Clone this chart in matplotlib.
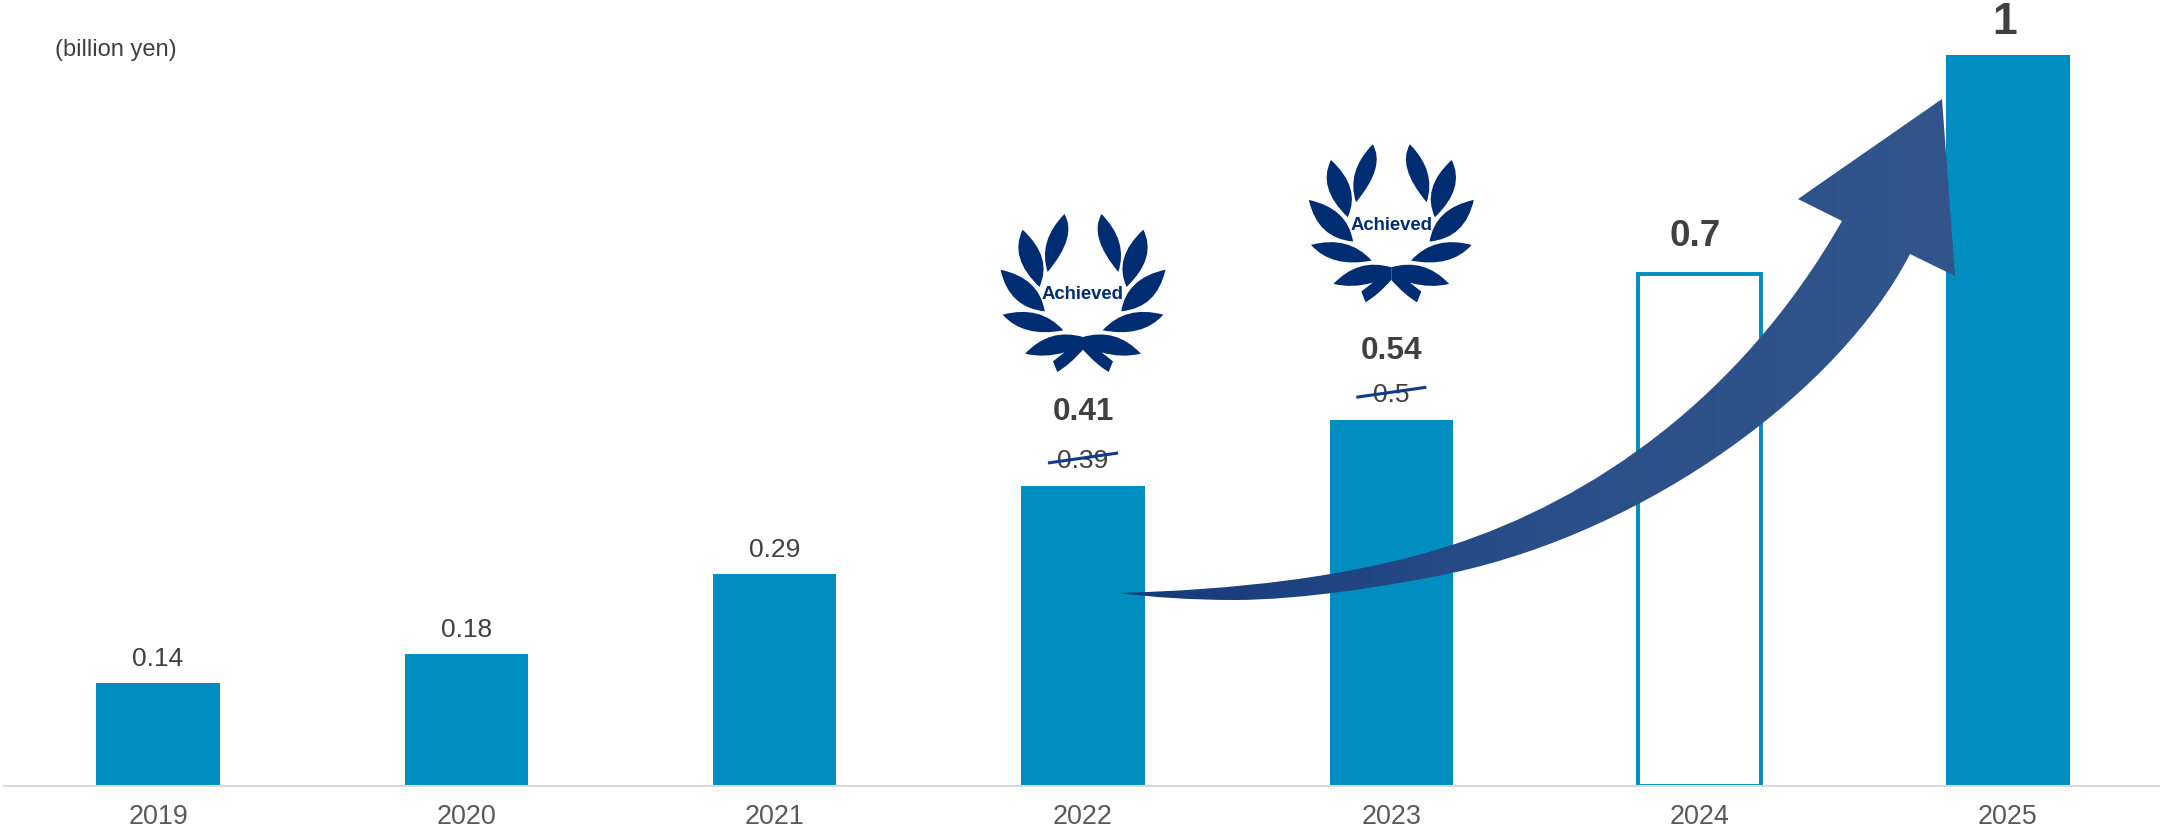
import numpy as np
import matplotlib
matplotlib.use('Agg')
import matplotlib.pyplot as plt
from matplotlib.colors import LinearSegmentedColormap
from matplotlib.patches import PathPatch
from matplotlib.path import Path
from matplotlib.transforms import Affine2D

plt.rcParams['font.family'] = ['Liberation Sans', 'DejaVu Sans']

years = ['2019', '2020', '2021', '2022', '2023', '2024', '2025']
bar_values = [0.14, 0.18, 0.29, 0.41, 0.5, 0.7, 1]
value_labels = ['0.14', '0.18', '0.29', '0.41', '0.54', '0.7', '1']
old_targets = {3: '0.39', 4: '0.5'}
achieved_years = [3, 4]
outline_years = [5]

BLUE = '#008dbf'
NAVY = '#002d72'
DARK = '#404040'
W, H = 2160, 834
BASE_PX = 785.5
ONE_PX = 55
FIRST_X = 158
STEP_X = 308.33


def draw_bars(ax):
    for i, v in enumerate(bar_values):
        if i in outline_years:
            ax.bar(i, v, width=0.4, facecolor='white', edgecolor=BLUE, linewidth=2.8, zorder=2)
        else:
            ax.bar(i, v, width=0.4, color=BLUE, zorder=2)
    ax.set_xlim(-FIRST_X / STEP_X, (W - FIRST_X) / STEP_X)
    ax.set_ylim(0, BASE_PX / (BASE_PX - ONE_PX))
    ax.set_xticks(range(len(years)))
    ax.set_xticklabels(years, fontsize=19.4, color='#595959')
    ax.tick_params(axis='x', length=0, pad=13)
    ax.set_yticks([])
    for side in ['top', 'left', 'right']:
        ax.spines[side].set_visible(False)
    ax.spines['bottom'].set_color('#d9d9d9')
    ax.spines['bottom'].set_linewidth(1.5)
    ax.spines['bottom'].set_bounds(ax.get_xlim()[0] + 4 / STEP_X, ax.get_xlim()[1])


def draw_value_labels(ax):
    for i, label in enumerate(value_labels):
        shift = 0
        if i in old_targets:
            size, weight, gap = 22.7, 'bold', 74 if i == 3 else 69
        elif i == 5:
            size, weight, gap, shift = 26.6, 'bold', 38, -5
        elif i == 6:
            size, weight, gap, shift = 32, 'bold', 33, -3
        else:
            size, weight, gap = 19, 'normal', 24
        ax.annotate(label, (i, bar_values[i]), xytext=(shift, gap), textcoords='offset pixels',
                    ha='center', va='center', fontsize=size, fontweight=weight, color=DARK,
                    zorder=5, annotation_clip=False)


def anchor(ax, i):
    x, y = ax.transData.transform((i, bar_values[i]))
    return x, H - y


def draw_old_targets(ax, overlay):
    for i, label in old_targets.items():
        ax.annotate(label, (i, bar_values[i]), xytext=(0, 25), textcoords='offset pixels',
                    ha='center', va='center', fontsize=19, color=DARK, zorder=5)
        cx, top = anchor(ax, i)
        overlay.plot([cx - 35, cx + 35], [top - 23, top - 33], color='#0f3c8a', lw=2.2,
                     solid_capstyle='butt', zorder=6)


def wreath_shapes():
    # right half of the laurel in a 2.8 x 3 grid around the knot, left half is mirrored
    sx, sy = 2.8, 3.0

    def p(x, y):
        return ((x - 343) / sx, (y - 640) / sy)

    shapes = []
    leaves = [
        [(395, 253), (470, 335), (442, 427), (358, 320), (395, 253)],
        [(512, 300), (551, 384), (465, 472), (427, 384), (512, 300)],
        [(574, 420), (550, 535), (450, 545), (465, 445), (574, 420)],
        [(568, 555), (510, 625), (398, 602), (463, 525), (568, 555)],
    ]
    for pts in leaves:
        verts = [p(*q) for q in pts]
        codes = [Path.MOVETO, Path.CURVE3, Path.CURVE3, Path.CURVE3, Path.CURVE3]
        shapes.append((verts, codes))
    # bow with its tail
    bow = [(343, 622), (436, 593), (505, 672), (450, 686), (395, 668),
           (427, 695), (415, 727), (381, 706), (343, 660), (343, 622)]
    verts = [p(*q) for q in bow]
    codes = [Path.MOVETO, Path.CURVE3, Path.CURVE3, Path.CURVE3, Path.CURVE3,
             Path.LINETO, Path.LINETO, Path.CURVE3, Path.CURVE3, Path.LINETO]
    shapes.append((verts, codes))
    return shapes


def draw_wreath(overlay, cx, cy):
    for verts, codes in wreath_shapes():
        for flip in (1, -1):
            tf = Affine2D().scale(flip, 1).translate(cx, cy) + overlay.transData
            overlay.add_patch(PathPatch(Path(verts, codes), facecolor=NAVY, edgecolor='none',
                                        transform=tf, zorder=6))
    overlay.text(cx, cy - 48, 'Achieved', ha='center', va='center', fontsize=13.3,
                 fontweight='bold', color=NAVY, zorder=7)


def draw_arrow(overlay):
    verts = [(1119, 593),
             (1230, 590), (1350, 578), (1452, 545),
             (1590, 500), (1740, 400), (1842, 221),
             (1798, 199), (1942, 99), (1955, 276), (1910, 254),
             (1840, 390), (1650, 530), (1452, 573),
             (1390, 586), (1300, 600), (1235, 600),
             (1190, 600), (1150, 597), (1119, 593)]
    codes = [Path.MOVETO,
             Path.CURVE4, Path.CURVE4, Path.CURVE4,
             Path.CURVE4, Path.CURVE4, Path.CURVE4,
             Path.LINETO, Path.LINETO, Path.LINETO, Path.LINETO,
             Path.CURVE4, Path.CURVE4, Path.CURVE4,
             Path.CURVE4, Path.CURVE4, Path.CURVE4,
             Path.CURVE4, Path.CURVE4, Path.CURVE4]
    patch = PathPatch(Path(verts, codes), facecolor='none', edgecolor='none',
                      transform=overlay.transData)
    overlay.add_patch(patch)
    cmap = LinearSegmentedColormap.from_list('arrow', ['#153a7b', '#2a4e88', '#33558c'])
    img = overlay.imshow(np.linspace(0, 1, 256).reshape(1, -1), cmap=cmap, aspect='auto',
                         extent=(1119, 1955, 600, 99), zorder=4)
    img.set_clip_path(patch)
    overlay.set_xlim(0, W)
    overlay.set_ylim(H, 0)


fig = plt.figure(figsize=(W / 100, H / 100), dpi=100)
ax = fig.add_axes([0, (H - BASE_PX) / H, 1, BASE_PX / H])
draw_bars(ax)

overlay = fig.add_axes([0, 0, 1, 1], zorder=3)
overlay.set_xlim(0, W)
overlay.set_ylim(H, 0)
overlay.axis('off')

draw_arrow(overlay)
draw_value_labels(ax)
draw_old_targets(ax, overlay)

for i, gap in zip(achieved_years, [143, 147]):
    cx, top = anchor(ax, i)
    draw_wreath(overlay, cx, top - gap)

overlay.text(55, 50, '(billion yen)', ha='left', va='center', fontsize=17, color=DARK)

fig.savefig('out.png', dpi=100)
